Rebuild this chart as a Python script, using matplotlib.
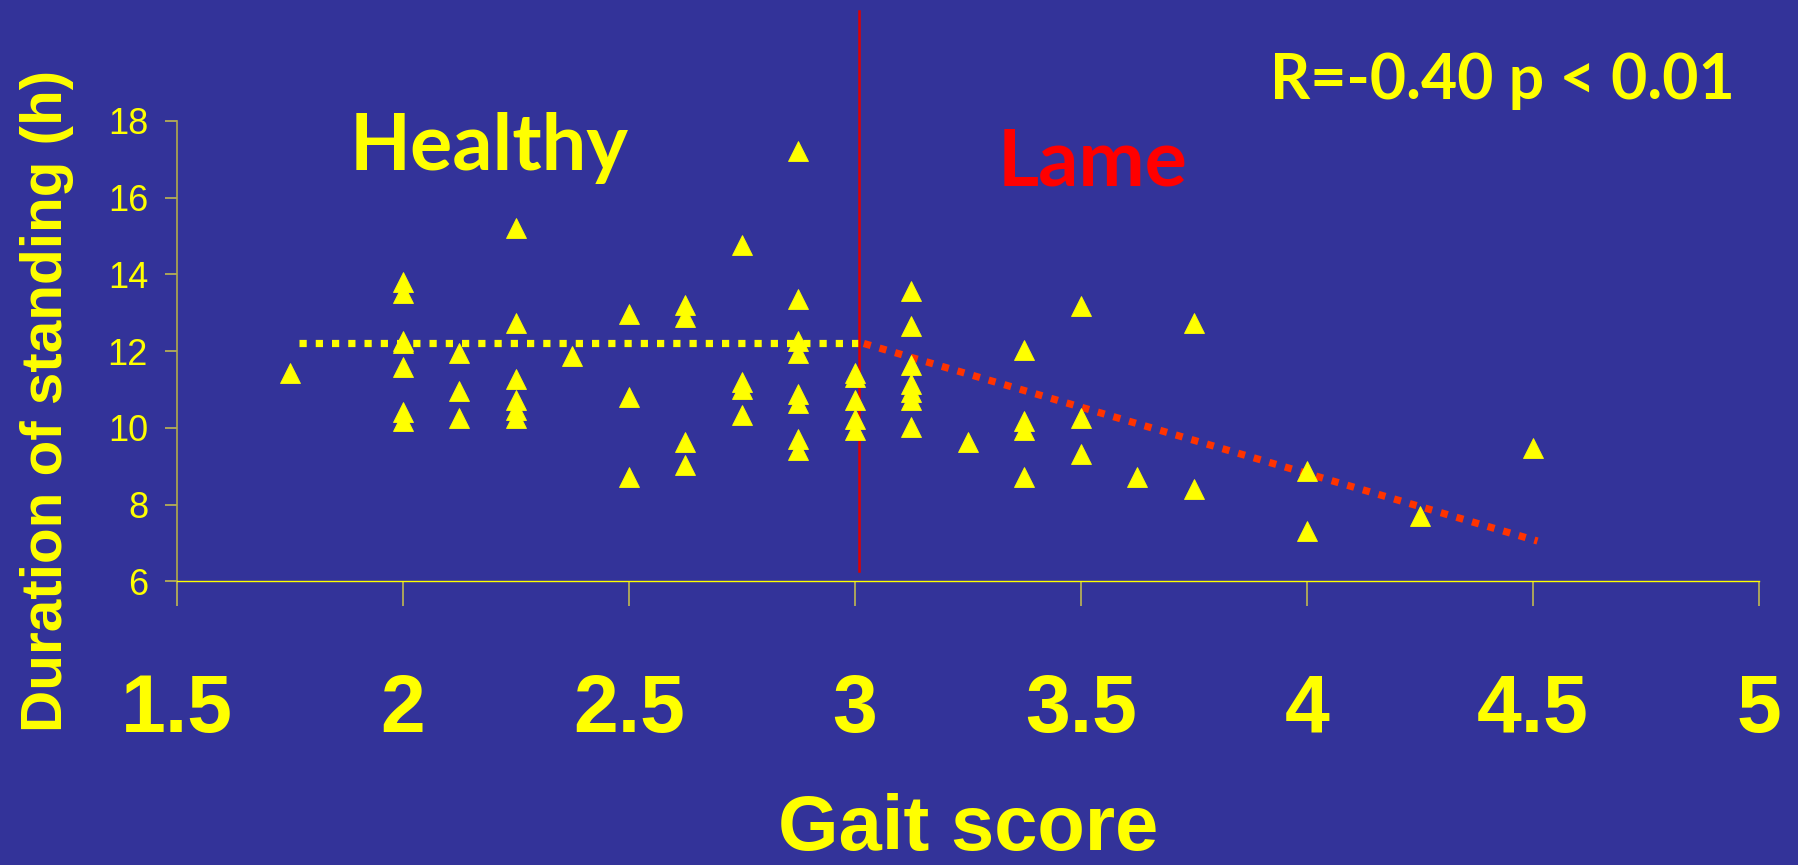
import matplotlib
matplotlib.use("Agg")
import matplotlib.pyplot as plt
import numpy as np

# ---- data ----
gait_x = [1.75,
          2.0, 2.0, 2.0, 2.0, 2.0, 2.0, 2.0,
          2.125, 2.125, 2.125,
          2.25, 2.25, 2.25, 2.25, 2.25, 2.25,
          2.375,
          2.5, 2.5, 2.5,
          2.625, 2.625, 2.625, 2.625,
          2.75, 2.75, 2.75, 2.75,
          2.875, 2.875, 2.875, 2.875, 2.875, 2.875, 2.875, 2.875,
          3.0, 3.0, 3.0, 3.0, 3.0,
          3.125, 3.125, 3.125, 3.125, 3.125, 3.125, 3.125,
          3.25,
          3.375, 3.375, 3.375, 3.375,
          3.5, 3.5, 3.5,
          3.625,
          3.75, 3.75,
          4.0, 4.0,
          4.25,
          4.5]
standing_h = [11.42,
              13.81, 13.51, 12.27, 12.20, 11.58, 10.41, 10.18,
              11.96, 10.95, 10.26,
              15.22, 12.74, 11.27, 10.73, 10.47, 10.25,
              11.87,
              12.97, 10.80, 8.71,
              13.20, 12.88, 9.64, 9.02,
              14.76, 11.20, 11.02, 10.33,
              17.22, 13.36, 12.27, 11.96, 10.88, 10.64, 9.72, 9.41,
              11.42, 11.33, 10.73, 10.23, 9.94,
              13.58, 12.66, 11.64, 11.14, 10.94, 10.72, 10.03,
              9.64,
              12.04, 10.17, 9.94, 8.71,
              13.19, 10.25, 9.33,
              8.71,
              12.73, 8.41,
              8.87, 7.32,
              7.70,
              9.47]

healthy_line_x = [1.77, 3.02]
healthy_line_y = [12.2, 12.2]
lame_line_x = [3.02, 4.51]
lame_line_y = [12.2, 7.05]
threshold_x = 3.01
threshold_y = [6.28, 20.87]

x_ticks = [1.5, 2, 2.5, 3, 3.5, 4, 4.5, 5]
x_tick_labels = ["1.5", "2", "2.5", "3", "3.5", "4", "4.5", "5"]
y_ticks = [6, 8, 10, 12, 14, 16, 18]

BG = "#333399"
YEL = "#ffff00"
ANN_FONT = ["Lato", "DejaVu Sans"]

W, H = 1799, 865
fig = plt.figure(figsize=(W / 100, H / 100), dpi=100, facecolor=BG)
ax = fig.add_axes([176.7 / W, 1 - 581.3 / H, (1759 - 176.7) / W, (581.3 - 121) / H])
ax.set_facecolor(BG)

ax.set_xlim(1.5, 5)
ax.set_ylim(6, 18)

# trend lines
ax.plot(healthy_line_x, healthy_line_y, color=YEL, lw=5.2,
        linestyle=(0, (1, 1.25)), dash_capstyle="butt", zorder=2)
ax.plot(lame_line_x, lame_line_y, color="#ff3300", lw=5.2,
        linestyle=(0, (1, 1.25)), dash_capstyle="butt", zorder=2)

# threshold line
ax.plot([threshold_x, threshold_x], threshold_y, color="#e00000", lw=1.8,
        clip_on=False, zorder=3)

# points
ax.plot(gait_x, standing_h, linestyle="none", marker="^", markersize=15,
        color=YEL, mec=YEL, mew=0.6, zorder=4, clip_on=False)

# axes styling
for s in ["top", "right"]:
    ax.spines[s].set_visible(False)
ax.spines["left"].set_color("#b3ab4a")
ax.spines["left"].set_linewidth(1.2)
ax.spines["bottom"].set_color(YEL)
ax.spines["bottom"].set_linewidth(1.0)

ax.set_xticks(x_ticks)
ax.set_xticklabels(x_tick_labels)
ax.set_yticks(y_ticks)
ax.tick_params(axis="x", direction="out", length=18, width=1.2, color="#c0b850",
               pad=48, labelsize=58, labelcolor=YEL)
ax.tick_params(axis="y", direction="out", length=8.6, width=1.2, color="#c0b850",
               pad=12, labelsize=26, labelcolor=YEL)
for lab in ax.get_xticklabels():
    lab.set_fontfamily("Liberation Sans")
    lab.set_fontweight("bold")
for lab in ax.get_yticklabels():
    lab.set_fontfamily("Liberation Sans")

# axis titles
fig.text(47 / W, 1 - 401 / H, "Duration of standing (h)", rotation=90,
         ha="center", va="center", color=YEL, fontsize=42,
         fontfamily="Liberation Sans", fontweight="bold")
fig.text(968 / W, 1 - 850 / H, "Gait score", ha="center", va="baseline",
         color=YEL, fontsize=56, fontfamily="Liberation Sans", fontweight="bold")

# annotations
fig.text(350 / W, 1 - 170 / H, "Healthy", ha="left", va="baseline", color=YEL,
         fontsize=57, family=ANN_FONT, fontweight="bold")
fig.text(998 / W, 1 - 185 / H, "Lame", ha="left", va="baseline", color="#ff0000",
         fontsize=57, family=ANN_FONT, fontweight="bold")
fig.text(1270 / W, 1 - 99 / H, "R=-0.40 p < 0.01", ha="left", va="baseline",
         color=YEL, fontsize=45, family=ANN_FONT, fontweight="bold")

fig.savefig("out.png", dpi=100, facecolor=BG)
